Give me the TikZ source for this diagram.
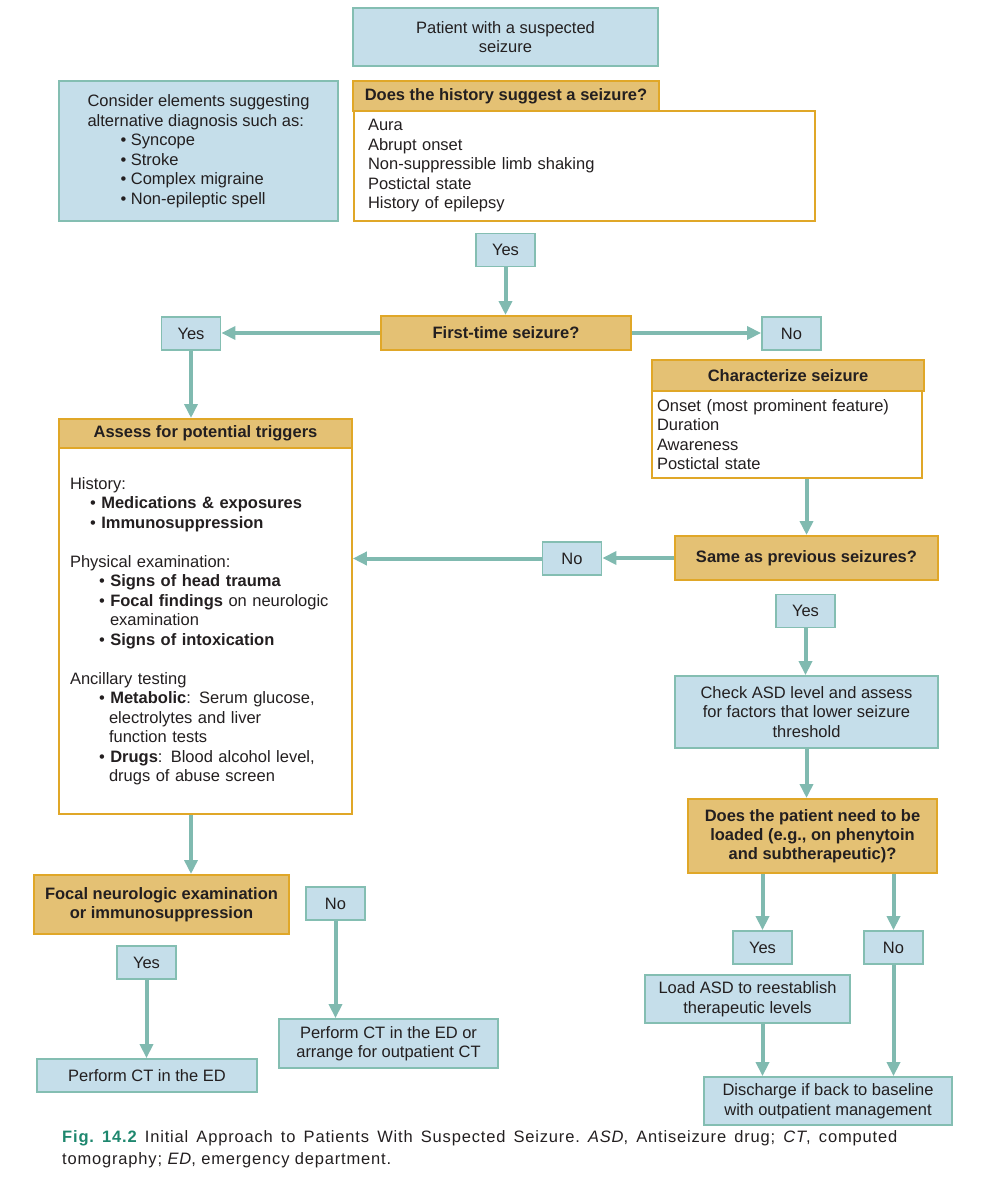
\documentclass[tikz,border=0pt]{standalone}
\usepackage{fontspec}
\setmainfont{Liberation Sans}
\newfontfamily\capfont[LetterSpace=5]{Liberation Sans}
\usetikzlibrary{arrows.meta}

\definecolor{boxblue}{RGB}{197,222,234}
\definecolor{boxedge}{RGB}{132,190,178}
\definecolor{askfill}{RGB}{228,193,116}
\definecolor{askedge}{RGB}{224,167,40}
\definecolor{flowteal}{RGB}{128,186,176}
\definecolor{figteal}{RGB}{30,135,110}
\definecolor{ink}{RGB}{35,31,32}

\tikzset{
  every node/.style={inner sep=0pt,text=ink,font=\fontsize{16.5}{19.5}\selectfont},
  plan/.style={draw=boxedge,fill=boxblue,line width=1.8pt,align=center},
  answer/.style={plan,minimum width=59,minimum height=33},
  ask/.style={draw=askedge,fill=askfill,line width=2pt,align=center,
    font=\fontsize{16.5}{19}\selectfont\bfseries},
  list/.style={draw=askedge,fill=white,line width=1.6pt,align=left},
  flow/.style={draw=flowteal,line width=4pt,-{Triangle[width=13pt,length=14pt]}},
}

\begin{document}
\begin{tikzpicture}[x=1pt,y=-1pt]
\useasboundingbox (0,0) rectangle (980,1190);

\node[plan,minimum width=305,minimum height=58] (patient) at (505.5,37) {Patient with a suspected\\seizure};
\node[plan,minimum width=279,minimum height=140,align=left] (alt) at (198.5,151)
  {Consider elements suggesting\\alternative diagnosis such as:\\
   \hspace*{33pt}• Syncope\\\hspace*{33pt}• Stroke\\\hspace*{33pt}• Complex migraine\\\hspace*{33pt}• Non-epileptic spell};

\node[list,text width=433pt,inner xsep=14pt,minimum height=110] (histlist) at (584.5,166)
  {Aura\\Abrupt onset\\Non-suppressible limb shaking\\Postictal state\\History of epilepsy};
\node[ask,minimum width=306,minimum height=30] (hist) at (506,96) {Does the history suggest a seizure?};

\node[ask,minimum width=250,minimum height=34] (first) at (506,333) {First-time seizure?};

\node[list,text width=260pt,inner xsep=5pt,minimum height=87] (charlist) at (787,434.5)
  {Onset (most prominent feature)\\Duration\\Awareness\\Postictal state};
\node[ask,minimum width=272,minimum height=31] (char) at (788,375.5) {Characterize seizure};

\node[list,text width=271pt,inner xsep=11pt,minimum height=366] (trig) at (205.5,631)
  {History:\\
   \hspace*{20pt}• {\bfseries Medications \& exposures}\\
   \hspace*{20pt}• {\bfseries Immunosuppression}\\[19.5pt]
   Physical examination:\\
   \hspace*{29pt}• {\bfseries Signs of head trauma}\\
   \hspace*{29pt}• {\bfseries Focal findings} on neurologic\\
   \hspace*{40pt}examination\\
   \hspace*{29pt}• {\bfseries Signs of intoxication}\\[19.5pt]
   Ancillary testing\\
   \hspace*{29pt}• {\bfseries Metabolic}: Serum glucose,\\
   \hspace*{39pt}electrolytes and liver\\
   \hspace*{39pt}function tests\\
   \hspace*{29pt}• {\bfseries Drugs}: Blood alcohol level,\\
   \hspace*{39pt}drugs of abuse screen};
\node[ask,minimum width=293,minimum height=29] (assess) at (205.5,433.5) {Assess for potential triggers};

\node[ask,minimum width=263,minimum height=44] (same) at (806.5,558) {Same as previous seizures?};
\node[plan,minimum width=263,minimum height=72] (check) at (806.5,712)
  {Check ASD level and assess\\for factors that lower seizure\\threshold};
\node[ask,minimum width=249,minimum height=74] (need) at (812.5,836)
  {Does the patient need to be\\loaded (e.g., on phenytoin\\and subtherapeutic)?};
\node[plan,minimum width=205,minimum height=48] (reload) at (747.5,999)
  {Load ASD to reestablish\\therapeutic levels};
\node[plan,minimum width=248,minimum height=48] (discharge) at (828,1101)
  {Discharge if back to baseline\\with outpatient management};

\node[ask,minimum width=255,minimum height=59] (focal) at (161.5,904.5)
  {Focal neurologic examination\\or immunosuppression};
\node[plan,minimum width=220,minimum height=33] (ctnow) at (147,1075.5) {Perform CT in the ED};
\node[plan,minimum width=219,minimum height=49] (ctlater) at (388.5,1043.5)
  {Perform CT in the ED or\\arrange for outpatient CT};

% yes / no tags
\foreach \n/\t/\x/\y in {yes1/Yes/505.5/250,yes2/Yes/191/333.5,no1/No/791.5/333.5,
  no2/No/572/558.5,yes3/Yes/805.5/611,yes4/Yes/762.5/947.5,no3/No/893.5/947.5,
  no4/No/335.5/903.5,yes5/Yes/146.5/962.5}
\node[answer] (\n) at (\x,\y) {\t};

\draw[flow] (yes1.south) -- (yes1.south |- first.north);
\draw[flow] (first.west) -- (first.west -| yes2.east);
\draw[flow] (first.east) -- (first.east -| no1.west);
\draw[flow] (yes2.south) -- (yes2.south |- assess.north);
\draw[flow] (same.north |- charlist.south) -- (same.north);
\draw[flow] (same.west) -- (same.west -| no2.east);
\draw[flow] (no2.west) -- (no2.west -| trig.east);
\draw[flow] (yes3.south) -- (yes3.south |- check.north);
\draw[flow] (check.south) -- (check.south |- need.north);
\draw[flow] (yes4 |- need.south) -- (yes4.north);
\draw[flow] (no3 |- need.south) -- (no3.north);
\draw[flow] (yes4 |- reload.south) -- (yes4 |- discharge.north);
\draw[flow] (no3.south) -- (no3 |- discharge.north);
\draw[flow] (yes2 |- trig.south) -- (yes2 |- focal.north);
\draw[flow] (yes5.south) -- (yes5 |- ctnow.north);
\draw[flow] (no4.south) -- (no4 |- ctlater.north);

\node[anchor=north west,text width=835pt,align=justify,font=\capfont\fontsize{16.5}{22}\selectfont\frenchspacing] (caption) at (62,1130)
  {{\color{figteal}\bfseries Fig. 14.2} Initial Approach to Patients With Suspected Seizure. \textit{ASD}, Antiseizure drug; \textit{CT}, computed\linebreak
   tomography; \textit{ED}, emergency department.};
\end{tikzpicture}
\end{document}
